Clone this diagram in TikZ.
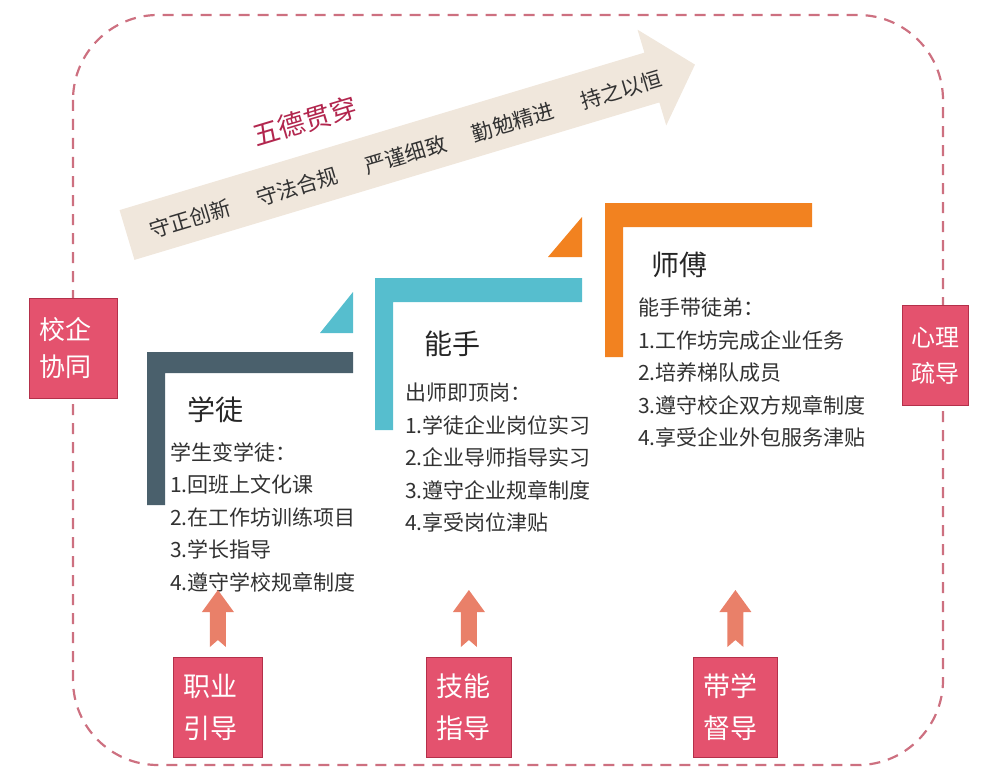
\documentclass[tikz,border=0pt]{standalone}
\usepackage{fontspec}
\setmainfont{Noto Sans CJK SC}
\usepackage{tikz}
\definecolor{dashpink}{RGB}{205,112,128}
\definecolor{boxred}{RGB}{228,82,110}
\definecolor{boxedge}{RGB}{180,48,74}
\definecolor{slate}{RGB}{74,96,108}
\definecolor{stepteal}{RGB}{86,190,206}
\definecolor{steporange}{RGB}{242,130,32}
\definecolor{bandbeige}{RGB}{240,231,220}
\definecolor{arrowsalmon}{RGB}{233,128,105}
\definecolor{wudered}{RGB}{178,38,78}
\definecolor{bodytext}{RGB}{50,50,50}
\tikzstyle{frame}=[draw=dashpink, line width=2.2pt, dash pattern=on 11pt off 8pt, rounded corners=85pt]
\tikzstyle{tagbox}=[anchor=north west, fill=boxred, draw=boxedge, line width=0.8pt, text=white, align=left, inner xsep=10pt, inner ysep=0pt, minimum height=100pt, font=\fontsize{26}{37}\selectfont]
\tikzstyle{steptitle}=[text=black!85, font=\fontsize{28}{32}\selectfont]
\tikzstyle{steplist}=[anchor=north west, align=left, inner sep=0pt, text=bodytext, font=\fontsize{21}{32.5}\selectfont]
\tikzstyle{virtue}=[text=bodytext, inner sep=0pt, font=\fontsize{21}{24}\selectfont]
\tikzstyle{uparrow}=[fill=arrowsalmon]

\begin{document}
\begin{tikzpicture}[x=1pt,y=-1pt]
            \useasboundingbox (0,0) rectangle (988,781);
            % Marco
            \draw[frame] (73,15) rectangle (943,765);
            % Flecha de los cinco valores
            \begin{scope}[shift={(127,235)}, rotate=16.7, transform shape]
                \fill[bandbeige] (0,-26) -- (548,-26) -- (548,-50) -- (593,0) -- (548,50) -- (548,26) -- (0,26) -- cycle;
                \node[virtue, text=wudered, font=\fontsize{27}{30}\selectfont] (wude) at (203,-58) {五德贯穿};
                \node[virtue] (v1) at (65,3) {守正创新};
                \node[virtue] (v2) at (177,3) {守法合规};
                \node[virtue] (v3) at (290,3) {严谨细致};
                \node[virtue] (v4) at (402,3) {勤勉精进};
                \node[virtue] (v5) at (515,3) {持之以恒};
            \end{scope}
            % Escalones
            \fill[slate] (147,352) -- (353,352) -- (353,373) -- (165,373) -- (165,505) -- (147,505) -- cycle;
            \fill[stepteal] (320,333) -- (353,333) -- (353,292) -- cycle;
            \fill[stepteal] (375,278) -- (582,278) -- (582,302) -- (393,302) -- (393,430) -- (375,430) -- cycle;
            \fill[steporange] (548,257) -- (582,257) -- (582,217) -- cycle;
            \fill[steporange] (605,203) -- (812,203) -- (812,227) -- (623,227) -- (623,357) -- (605,357) -- cycle;
            % Textos
            \node[steptitle] (xuetu) at (215,410) {学徒};
            \node[steplist] (xuetulist) at (170,442) {学生变学徒：\\1.回班上文化课\\2.在工作坊训练项目\\3.学长指导\\4.遵守学校规章制度};
            \node[steptitle] (nengshou) at (452,344) {能手};
            \node[steplist] (nengshoulist) at (405,383) {出师即顶岗：\\1.学徒企业岗位实习\\2.企业导师指导实习\\3.遵守企业规章制度\\4.享受岗位津贴};
            \node[steptitle] (shifu) at (679,265) {师傅};
            \node[steplist] (shifulist) at (638,298) {能手带徒弟：\\1.工作坊完成企业任务\\2.培养梯队成员\\3.遵守校企双方规章制度\\4.享受企业外包服务津贴};
            % Cuadros
            \node[tagbox, text width=68pt] (xiaoqi) at (29,298) {校企\\协同};
            \node[tagbox, text width=48pt, inner xsep=9pt, font=\fontsize{24}{36}\selectfont] (xinli) at (902,305) {心理\\疏导};
            \node[tagbox, text width=69pt, font=\fontsize{27}{42}\selectfont] (zhiye) at (173,657) {职业\\引导};
            \node[tagbox, text width=65pt, font=\fontsize{27}{42}\selectfont] (jineng) at (426,657) {技能\\指导};
            \node[tagbox, text width=64pt, font=\fontsize{27}{42}\selectfont] (daixue) at (693,657) {带学\\督导};
            % Flechas
            \foreach \b in {zhiye,jineng,daixue}
                \fill[uparrow] ([yshift=10pt]\b.north) ++(-8,0) -- ++(0,-35) -- ++(-8,0) -- ++(16,-22) -- ++(16,22) -- ++(-8,0) -- ++(0,35) -- ++(-8,-7) -- cycle;
        \end{tikzpicture}
\end{document}
